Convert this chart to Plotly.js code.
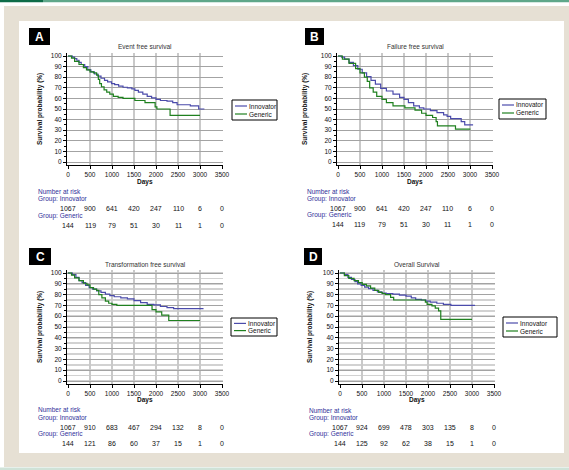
<!DOCTYPE html>
<html><head><meta charset="utf-8">
<script src="https://cdn.plot.ly/plotly-3.0.1.min.js"></script>
<style>html,body{margin:0;padding:0;background:#fff;}#chart{width:569px;height:470px;}</style>
</head><body><div id="chart"></div>
<script>
// ---- data ----
const panelLetters = ['A','B','C','D'];
const panelTitles = ['Event free survival','Failure free survival','Transformation free survival','Overall Survival'];
const groupNames = ['Innovator','Generic'];
const xTicks = [0,500,1000,1500,2000,2500,3000,3500];
const yTicks = [0,10,20,30,40,50,60,70,80,90,100];

const aInnT = [0,100,150,200,250,300,380,450,520,600,680,750,830,900,990,1060,1150,1250,1350,1450,1520,1600,1700,1800,1900,2000,2100,2250,2380,2480,2780,2970,3100];
const aInnS = [100,99,97.5,96,94,92,90,87,85,83,81,79,77,75.5,74,73,71.5,70.5,70,69,67.5,66,64,62,60.5,59,58,57.5,56,54,53,50,50];
const aGenT = [0,80,150,250,350,420,500,580,650,690,720,760,820,880,950,1030,1140,1250,1520,1750,1980,2020,2320,3000];
const aGenS = [100,98,95,92,89,87,85,84,82,78,74,71,68,66,64,62,61,60,58,56,52,50,44,44];

const bInnT = [0,80,150,250,350,450,550,650,750,850,970,1100,1250,1400,1500,1600,1720,1850,1950,2100,2250,2400,2480,2560,2800,2880,3070];
const bInnS = [100,99,97,94,91,87.5,84,80.5,77,73.5,69.5,67,64,61,59,56,53,51,50,48.5,46.5,44.5,43,41,38,35,35];
const bGenT = [0,100,250,400,500,600,665,720,800,880,1000,1100,1250,1520,1750,1900,2000,2150,2230,2260,2670,3010];
const bGenS = [100,97,93,88,84,80,76,70,66,62,59,56,53,51,49,46,44,42,38,34,31,31];

const cInnT = [0,100,180,250,320,400,480,560,650,750,850,950,1050,1200,1350,1500,1650,1800,1950,2100,2250,2400,3080];
const cInnS = [100,98.5,96,93,91,88.5,86.5,85,83.5,82,80.5,79,78,77,76,74.5,72.5,71,70.5,69,68,67,67];
const cGenT = [0,80,150,250,350,430,500,580,650,700,770,850,925,1000,1110,1910,2000,2130,2290,3000];
const cGenS = [100,98,95.5,93,90.5,89,86.5,85,84,80,77,74,72,71,70,66,64,61,56,56];

const dInnT = [0,100,180,260,340,400,480,560,650,750,850,950,1050,1200,1350,1500,1620,1720,1850,1950,2050,2200,2350,2520,3070];
const dInnS = [100,98.5,96,94,92,90,88.5,87,85.5,84,82.5,81.5,81,80.5,79.5,78.5,77,75.5,75,74,73,72,71,70,70];
const dGenT = [0,100,200,320,420,505,600,695,790,880,960,1030,1150,1220,1940,1980,2090,2165,2240,2290,3000];
const dGenS = [100,97.5,95,93,91,89.5,88,86,84,82,81,80,77.5,75,73,71,69.5,67.5,65,57,57];

const riskInnA = [1067,900,641,420,247,110,6,0];
const riskGenA = [144,119,79,51,30,11,1,0];
const riskInnB = [1067,900,641,420,247,110,6,0];
const riskGenB = [144,119,79,51,30,11,1,0];
const riskInnC = [1067,910,683,467,294,132,8,0];
const riskGenC = [144,121,86,60,37,15,1,0];
const riskInnD = [1067,924,699,478,303,135,8,0];
const riskGenD = [144,125,92,62,38,15,1,0];

const curves = [[aInnT,aInnS,aGenT,aGenS],[bInnT,bInnS,bGenT,bGenS],[cInnT,cInnS,cGenT,cGenS],[dInnT,dInnS,dGenT,dGenS]];
const risks = [[riskInnA,riskGenA],[riskInnB,riskGenB],[riskInnC,riskGenC],[riskInnD,riskGenD]];

// ---- layout geometry (pixels) ----
const W=569, H=470;
const FONT = "Arial, 'Liberation Sans', sans-serif";
const px = v => v/W, py = v => 1 - v/H;
const COL = ['#4b4bab','#1f801f'];
const NAVY = '#30309a';
const geo = [
  {xd:[67,223], x0:68, x3500:222, yd:[53,165], y100:56, y0:162, titleY:47, box:[29,28,50,45], yTitleX:40, daysY:182, rows:[192,199,208,216,225], riskX:37, leg:[232,100,277,120]},
  {xd:[337,493], x0:338, x3500:492, yd:[53,165], y100:56, y0:162, titleY:47, box:[305,28,324,45], yTitleX:305, daysY:182, rows:[192,199,208,215,224], riskX:306, leg:[499,99,546,119]},
  {xd:[67,223], x0:68, x3500:222, yd:[270,384], y100:273, y0:381, titleY:264, box:[29,248,51,265], yTitleX:40, daysY:400, rows:[409,418,427,434,443], riskX:37, leg:[231,318,277,336]},
  {xd:[339,495], x0:340, x3500:494, yd:[270,384], y100:273, y0:381, titleY:264, box:[304,248,322,265], yTitleX:310, daysY:400, rows:[410,418,427,434,443], riskX:308, leg:[503,317,557,337]}
];

const data = [];
const layout = {
  width:W, height:H, margin:{l:0,r:0,t:0,b:0}, paper_bgcolor:'#ffffff', plot_bgcolor:'#ffffff',
  showlegend:false, font:{family:FONT,size:7,color:'#111'},
  shapes:[
    {type:'rect',xref:'paper',yref:'paper',x0:px(4),x1:1,y0:py(467),y1:py(6),fillcolor:'#e6e0d4',line:{width:0},layer:'below'},
    {type:'rect',xref:'paper',yref:'paper',x0:px(19),x1:px(564),y0:py(453),y1:py(21),fillcolor:'#ffffff',line:{width:0},layer:'below'},
    {type:'rect',xref:'paper',yref:'paper',x0:0,x1:px(43),y0:py(2.2),y1:1,fillcolor:'#0e6c48',line:{width:0},layer:'below'},
    {type:'rect',xref:'paper',yref:'paper',x0:px(43),x1:1,y0:py(2.2),y1:1,fillcolor:'#5fa78a',line:{width:0},layer:'below'},
    {type:'rect',xref:'paper',yref:'paper',x0:0,x1:1,y0:0,y1:py(467.5),fillcolor:'#cfe2d7',line:{width:0},layer:'below'}
  ],
  annotations:[]
};

geo.forEach((g,i)=>{
  const sfx = i===0 ? '' : String(i+1);
  const xs = (g.x3500-g.x0)/3500, ys = (g.y0-g.y100)/100;
  const xr = [-(g.x0-g.xd[0])/xs, 3500+(g.xd[1]-g.x3500)/xs];
  const yr = [-(g.yd[1]-g.y0)/ys, 100+(g.y100-g.yd[0])/ys];
  const minorGrid = i>=2;
  layout['xaxis'+sfx] = {domain:[px(g.xd[0]),px(g.xd[1])], range:xr, anchor:'y'+sfx, tickvals:xTicks, ticktext:xTicks.map(String),
    showline:true, linecolor:'#000', linewidth:1, ticks:'outside', ticklen:3, tickcolor:'#000', showgrid:true, gridcolor:'#c9c9c9', gridwidth:1.6,
    zeroline:false, tickfont:{size:6.5,family:FONT,color:'#111'}, fixedrange:true};
  layout['yaxis'+sfx] = {domain:[py(g.yd[1]),py(g.yd[0])], range:yr, anchor:'x'+sfx, tickvals:yTicks, ticktext:yTicks.map(String),
    showline:true, linecolor:'#000', linewidth:1, ticks:'outside', ticklen:3, tickcolor:'#000', showgrid:true, gridcolor:'#a3a3a3', gridwidth:1,
    minor:{tick0:0,dtick:5,ticks:'outside',ticklen:2,tickcolor:'#000',showgrid:minorGrid,gridcolor:'#d2d2d2',gridwidth:1.6},
    zeroline:false, tickfont:{size:6.5,family:FONT,color:'#111'}, fixedrange:true};
  const c = curves[i];
  [0,1].forEach(k=>{
    data.push({type:'scatter',mode:'lines',x:c[2*k],y:c[2*k+1],xaxis:'x'+sfx,yaxis:'y'+sfx,name:groupNames[k],
      line:{shape:'hv',color:COL[k],width:1.2},hoverinfo:'skip',showlegend:false});
  });
  const cx = (g.xd[0]+g.xd[1])/2;
  const A = layout.annotations;
  A.push({xref:'paper',yref:'paper',x:px(cx),y:py(g.titleY),text:panelTitles[i],showarrow:false,font:{size:6.5,color:'#333'},xanchor:'center',yanchor:'middle'});
  A.push({xref:'paper',yref:'paper',x:px(g.yTitleX),y:py((g.yd[0]+g.yd[1])/2),text:'<b>Survival probability (%)</b>',textangle:-90,showarrow:false,font:{size:6.5,color:'#111'},xanchor:'center',yanchor:'middle'});
  A.push({xref:'paper',yref:'paper',x:px(cx),y:py(g.daysY),text:'<b>Days</b>',showarrow:false,font:{size:6.5,color:'#111'},xanchor:'center',yanchor:'middle'});
  // letter box
  layout.shapes.push({type:'rect',xref:'paper',yref:'paper',x0:px(g.box[0]),x1:px(g.box[2]),y0:py(g.box[3]),y1:py(g.box[1]),fillcolor:'#000',line:{width:0},layer:'above'});
  A.push({xref:'paper',yref:'paper',x:px((g.box[0]+g.box[2])/2),y:py((g.box[1]+g.box[3])/2+0.5),text:'<b>'+panelLetters[i]+'</b>',showarrow:false,font:{size:12,color:'#fff'},xanchor:'center',yanchor:'middle'});
  // risk table
  const r = g.rows;
  A.push({xref:'paper',yref:'paper',x:px(g.riskX),y:py(r[0]),text:'Number at risk',showarrow:false,font:{size:6.5,color:NAVY},xanchor:'left',yanchor:'middle',borderpad:0});
  A.push({xref:'paper',yref:'paper',x:px(g.riskX),y:py(r[1]),text:'Group: '+groupNames[0],showarrow:false,font:{size:6.5,color:NAVY},xanchor:'left',yanchor:'middle',borderpad:0});
  A.push({xref:'paper',yref:'paper',x:px(g.riskX),y:py(r[3]),text:'Group: '+groupNames[1],showarrow:false,font:{size:6.5,color:NAVY},xanchor:'left',yanchor:'middle',borderpad:0});
  [0,1].forEach(k=>{
    risks[i][k].forEach((v,j)=>{
      A.push({xref:'x'+sfx,yref:'paper',x:xTicks[j],y:py(r[2+2*k]),text:String(v),showarrow:false,font:{size:7,color:'#111'},xanchor:'center',yanchor:'middle'});
    });
  });
  // legend
  const L = g.leg;
  layout.shapes.push({type:'rect',xref:'paper',yref:'paper',x0:px(L[0]),x1:px(L[2]),y0:py(L[3]),y1:py(L[1]),fillcolor:'#fff',line:{color:'#000',width:1},layer:'above'});
  const h = L[3]-L[1];
  [0,1].forEach(k=>{
    const yy = L[1] + h*(k===0?0.3:0.7);
    layout.shapes.push({type:'line',xref:'paper',yref:'paper',x0:px(L[0]+3),x1:px(L[0]+15),y0:py(yy),y1:py(yy),line:{color:COL[k],width:1.2},layer:'above'});
    A.push({xref:'paper',yref:'paper',x:px(L[0]+16),y:py(yy),text:groupNames[k],showarrow:false,font:{size:6.5,color:'#111'},xanchor:'left',yanchor:'middle',borderpad:0});
  });
});

Plotly.newPlot('chart', data, layout, {displayModeBar:false, staticPlot:true});
</script></body></html>
